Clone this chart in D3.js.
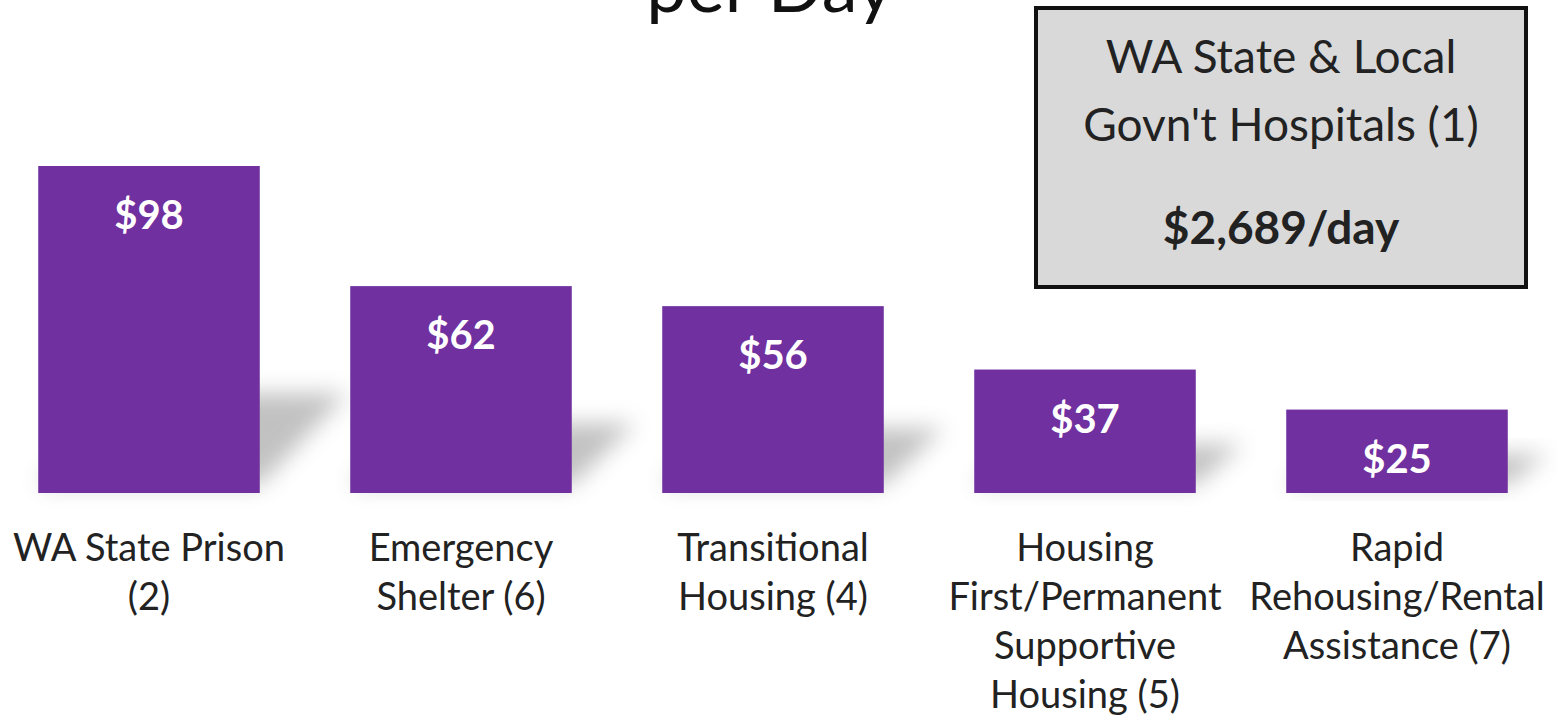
<!DOCTYPE html>
<html>
<head>
<meta charset="utf-8">
<script src="https://cdn.jsdelivr.net/npm/d3@7"></script>
<style>
  html, body { margin: 0; padding: 0; background: #fff; }
  svg { display: block; font-family: Lato, "Open Sans", sans-serif; }
  .cat-label { font-size: 38px; fill: #222; }
  .bar-value { font-size: 40px; font-weight: 700; fill: #fff; }
  .callout-text { font-size: 46px; fill: #222; }
</style>
</head>
<body>
<div id="chart"></div>
<script>
const titleText = "per Day";
const categories = [
  "WA State Prison\n(2)",
  "Emergency\nShelter (6)",
  "Transitional\nHousing (4)",
  "Housing\nFirst/Permanent\nSupportive\nHousing (5)",
  "Rapid\nRehousing/Rental\nAssistance (7)"
];
const costs = [98, 62, 56, 37, 25];
const calloutLines = ["WA State & Local", "Govn't Hospitals (1)"];
const calloutValue = "$2,689/day";

const width = 1557, height = 717;
const baseline = 493;

const svg = d3.select("#chart").append("svg")
  .attr("width", width)
  .attr("height", height);

const defs = svg.append("defs");
defs.append("filter")
  .attr("id", "shadow-blur")
  .attr("x", "-50%").attr("y", "-50%")
  .attr("width", "200%").attr("height", "200%")
  .append("feGaussianBlur")
  .attr("stdDeviation", 11);

const x = d3.scaleBand()
  .domain(categories)
  .range([-7, 1553])
  .paddingInner(0.29)
  .paddingOuter(0.145);

const y = d3.scaleLinear()
  .domain([0, 98])
  .range([baseline, 166]);

// title (first line sits above the visible area)
svg.append("text")
  .attr("x", 770)
  .attr("y", 12)
  .attr("text-anchor", "middle")
  .style("font-size", "72px")
  .style("fill", "#111")
  .text(titleText);

// soft perspective shadows behind the bars
svg.append("g").selectAll("path")
  .data(costs)
  .join("path")
  .attr("d", (d, i) => {
    const x0 = x(categories[i]);
    const x1 = x0 + x.bandwidth();
    const h = baseline - y(d);
    const shift = 0.2 * h + 22;
    const rise = 0.25 * h + 18;
    return `M${x0},${baseline - 8}L${x1},${baseline - 8}L${x1 + shift},${baseline - rise}L${x0 + shift},${baseline - rise}Z`;
  })
  .attr("fill", "#777")
  .attr("opacity", 0.45)
  .attr("filter", "url(#shadow-blur)");

svg.append("g").selectAll("rect")
  .data(costs)
  .join("rect")
  .attr("x", (d, i) => x(categories[i]))
  .attr("y", d => y(d))
  .attr("width", x.bandwidth())
  .attr("height", d => baseline - y(d))
  .attr("fill", "#7030a0");

svg.append("g").selectAll("text")
  .data(costs)
  .join("text")
  .attr("class", "bar-value")
  .attr("x", (d, i) => x(categories[i]) + x.bandwidth() / 2)
  .attr("y", d => y(d) + 63)
  .attr("text-anchor", "middle")
  .text(d => `$${d}`);

// category labels under each bar
const labels = svg.append("g").selectAll("text")
  .data(categories)
  .join("text")
  .attr("class", "cat-label")
  .attr("text-anchor", "middle")
  .attr("x", d => x(d) + x.bandwidth() / 2)
  .attr("y", 561);

labels.selectAll("tspan")
  .data(d => d.split("\n").map(line => ({ line, cx: x(d) + x.bandwidth() / 2 })))
  .join("tspan")
  .attr("x", d => d.cx)
  .attr("dy", (d, i) => i === 0 ? 0 : 49)
  .text(d => d.line);

// callout box
const box = svg.append("g");
box.append("rect")
  .attr("x", 1036)
  .attr("y", 8)
  .attr("width", 490)
  .attr("height", 279)
  .attr("fill", "#d9d9d9")
  .attr("stroke", "#111")
  .attr("stroke-width", 4);

box.selectAll("text.callout-text")
  .data(calloutLines)
  .join("text")
  .attr("class", "callout-text")
  .attr("x", 1281)
  .attr("y", (d, i) => 73 + i * 68)
  .attr("text-anchor", "middle")
  .text(d => d);

box.append("text")
  .attr("class", "callout-text")
  .attr("x", 1281)
  .attr("y", 244)
  .attr("text-anchor", "middle")
  .style("font-weight", 700)
  .text(calloutValue);
</script>
</body>
</html>
